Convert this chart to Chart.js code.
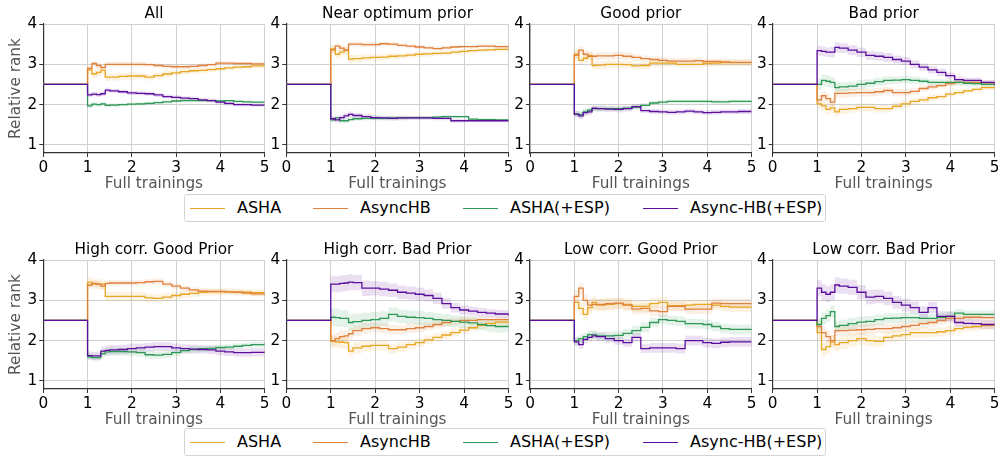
<!DOCTYPE html>
<html><head><meta charset="utf-8">
<script src="https://cdn.jsdelivr.net/npm/chart.js@4.4.1/dist/chart.umd.min.js"></script>
<style>
html,body{margin:0;padding:0;background:#fff;width:1001px;height:457px;overflow:hidden;font-family:"DejaVu Sans",sans-serif;}
canvas{position:absolute;}
.legend{position:absolute;left:184px;width:642px;height:28px;border:1px solid #d4d4d4;border-radius:3px;box-sizing:border-box;background:#fff;}
.ln{position:absolute;top:13px;width:35px;height:0;border-top:1.5px solid;}
.lt{position:absolute;top:3px;font-size:16px;line-height:19px;white-space:nowrap;color:#000;}
</style></head><body>
<div id="root"></div>
<script>
// ---- data ----
const XS = [0,1,1.1,1.2,1.3,1.4,1.5,1.7,1.9,2.1,2.3,2.5,2.7,2.9,3.1,3.3,3.5,3.7,3.9,4.1,4.3,4.5,4.7,5];
const X_TICKS = [0,1,2,3,4,5];
const Y_TICKS = [1,2,3,4];
const TITLES = ['All','Near optimum prior','Good prior','Bad prior','High corr. Good Prior','High corr. Bad Prior','Low corr. Good Prior','Low corr. Bad Prior'];
const SERIES = ['ASHA','AsyncHB','ASHA(+ESP)','Async-HB(+ESP)'];
const COLORS = ['#E8A622','#E0803D','#2E9856','#5B0E9E'];

// All
const all_asha  = [2.5,2.86,2.76,2.8,2.85,2.68,2.68,2.7,2.71,2.71,2.68,2.72,2.76,2.79,2.82,2.84,2.85,2.87,2.89,2.91,2.93,2.94,2.96,2.97];
const all_ahb   = [2.5,2.9,3.02,2.97,2.92,3.0,3.0,3.0,3.0,3.0,2.99,2.97,2.95,2.94,2.94,2.95,2.97,2.99,3.03,3.03,3.02,3.02,3.01,3.0];
const all_esp   = [2.5,1.97,2.01,2.0,2.02,1.98,1.99,2.0,2.01,2.02,2.03,2.05,2.07,2.09,2.1,2.1,2.1,2.1,2.09,2.1,2.08,2.07,2.06,2.06];
const all_hbesp = [2.5,2.24,2.26,2.25,2.27,2.36,2.34,2.32,2.29,2.28,2.27,2.24,2.2,2.18,2.16,2.15,2.12,2.1,2.06,2.03,2.0,2.0,1.99,1.98];
// Near optimum prior
const nop_asha  = [2.5,3.38,3.25,3.3,3.35,3.13,3.14,3.16,3.17,3.18,3.2,3.21,3.23,3.25,3.26,3.27,3.28,3.3,3.32,3.34,3.35,3.36,3.37,3.38];
const nop_ahb   = [2.5,3.36,3.45,3.4,3.35,3.5,3.5,3.49,3.49,3.51,3.5,3.47,3.45,3.43,3.41,3.39,3.41,3.43,3.44,3.44,3.45,3.45,3.44,3.42];
const nop_esp   = [2.5,1.62,1.67,1.6,1.6,1.63,1.65,1.66,1.66,1.66,1.67,1.67,1.68,1.68,1.68,1.69,1.7,1.7,1.7,1.64,1.63,1.63,1.62,1.62];
const nop_hbesp = [2.5,1.65,1.62,1.68,1.72,1.76,1.73,1.7,1.68,1.67,1.66,1.67,1.67,1.67,1.67,1.66,1.66,1.6,1.6,1.6,1.6,1.6,1.6,1.6];
// Good prior
const gp_asha  = [2.5,3.25,3.1,3.15,3.22,2.97,2.98,3.0,3.0,2.99,2.96,2.97,3.03,3.03,3.03,3.0,3.0,3.0,3.02,3.03,3.04,3.04,3.04,3.04];
const gp_ahb   = [2.5,3.23,3.35,3.25,3.2,3.2,3.21,3.21,3.22,3.2,3.17,3.14,3.12,3.1,3.08,3.08,3.08,3.09,3.07,3.07,3.06,3.05,3.05,3.04];
const gp_esp   = [2.5,1.77,1.75,1.82,1.86,1.9,1.9,1.9,1.9,1.91,1.94,1.98,2.04,2.06,2.08,2.08,2.08,2.08,2.08,2.07,2.07,2.08,2.08,2.09];
const gp_hbesp = [2.5,1.76,1.72,1.8,1.82,1.91,1.9,1.89,1.88,1.9,1.95,1.85,1.83,1.82,1.81,1.82,1.84,1.82,1.8,1.81,1.82,1.82,1.83,1.83];
// Bad prior
const bp_asha  = [2.5,2.02,1.97,1.88,1.92,1.82,1.88,1.9,1.93,1.93,1.9,1.9,1.96,2.02,2.08,2.12,2.17,2.2,2.26,2.3,2.34,2.38,2.42,2.45];
const bp_ahb   = [2.5,2.12,2.22,2.15,2.06,2.28,2.28,2.29,2.3,2.3,2.32,2.35,2.3,2.3,2.33,2.4,2.44,2.47,2.52,2.55,2.55,2.55,2.54,2.53];
const bp_esp   = [2.5,2.5,2.6,2.58,2.55,2.42,2.44,2.46,2.5,2.53,2.57,2.6,2.61,2.62,2.6,2.58,2.55,2.55,2.55,2.55,2.53,2.52,2.5,2.48];
const bp_hbesp = [2.5,3.34,3.32,3.3,3.3,3.42,3.4,3.35,3.3,3.22,3.2,3.17,3.12,3.08,3.0,2.93,2.86,2.8,2.72,2.62,2.6,2.6,2.55,2.48];
// High corr. Good Prior
const hcg_asha  = [2.5,3.45,3.4,3.4,3.4,3.1,3.1,3.1,3.1,3.1,3.06,3.05,3.08,3.12,3.15,3.17,3.2,3.21,3.21,3.21,3.2,3.2,3.19,3.18];
const hcg_ahb   = [2.5,3.38,3.42,3.4,3.35,3.42,3.43,3.43,3.43,3.44,3.46,3.47,3.4,3.35,3.3,3.26,3.23,3.22,3.22,3.21,3.2,3.18,3.16,3.14];
const hcg_esp   = [2.5,1.6,1.58,1.58,1.68,1.72,1.73,1.73,1.72,1.7,1.65,1.64,1.66,1.7,1.75,1.78,1.8,1.81,1.83,1.84,1.86,1.88,1.9,1.93];
const hcg_hbesp = [2.5,1.63,1.62,1.62,1.74,1.76,1.77,1.78,1.8,1.82,1.84,1.85,1.85,1.82,1.8,1.79,1.78,1.77,1.74,1.72,1.7,1.7,1.71,1.73];
// High corr. Bad Prior
const hcb_asha  = [2.5,1.98,1.97,1.96,1.95,1.74,1.82,1.86,1.88,1.88,1.8,1.84,1.9,1.95,2.02,2.08,2.14,2.2,2.26,2.32,2.38,2.42,2.46,2.48];
const hcb_ahb   = [2.5,2.0,2.05,2.1,2.12,2.17,2.25,2.3,2.32,2.3,2.27,2.27,2.3,2.32,2.35,2.4,2.45,2.48,2.5,2.5,2.52,2.52,2.52,2.52];
const hcb_esp   = [2.5,2.58,2.57,2.55,2.55,2.45,2.47,2.5,2.52,2.55,2.65,2.6,2.58,2.57,2.55,2.52,2.5,2.48,2.46,2.44,2.4,2.37,2.35,2.33];
const hcb_hbesp = [2.5,3.4,3.4,3.42,3.43,3.45,3.44,3.3,3.3,3.28,3.25,3.2,3.18,3.15,3.12,3.05,2.92,2.82,2.76,2.73,2.7,2.68,2.66,2.62];
// Low corr. Good Prior
const lcg_asha  = [2.5,2.95,2.8,2.65,2.82,2.95,2.88,2.9,2.92,2.9,2.85,2.85,2.92,2.95,2.87,2.87,2.88,2.9,2.9,2.88,2.85,2.83,2.83,2.83];
const lcg_ahb   = [2.5,3.1,3.3,3.0,2.88,2.9,2.9,2.92,2.93,2.88,2.78,2.8,2.74,2.72,2.85,2.85,2.78,2.78,2.78,2.93,2.92,2.92,2.92,2.92];
const lcg_esp   = [2.5,2.0,2.05,2.1,2.15,2.15,2.12,2.12,2.13,2.18,2.25,2.33,2.45,2.52,2.5,2.48,2.42,2.42,2.4,2.35,2.3,2.28,2.28,2.27];
const lcg_hbesp = [2.5,1.97,1.9,2.03,2.08,2.12,2.1,2.05,2.0,1.95,2.08,1.8,1.82,1.82,1.82,1.8,2.0,2.0,1.95,1.93,1.96,1.97,1.97,1.97];
// Low corr. Bad Prior
const lcb_asha  = [2.5,2.2,1.78,1.85,1.97,1.9,1.95,2.0,2.05,2.0,1.98,2.08,2.12,2.15,2.2,2.2,2.2,2.22,2.25,2.3,2.33,2.35,2.37,2.38];
const lcb_ahb   = [2.5,2.35,2.2,2.1,2.0,2.25,2.25,2.26,2.27,2.28,2.3,2.3,2.32,2.35,2.38,2.42,2.45,2.5,2.55,2.55,2.58,2.58,2.57,2.57];
const lcb_esp   = [2.5,2.4,2.55,2.62,2.72,2.35,2.38,2.42,2.46,2.48,2.52,2.55,2.56,2.57,2.57,2.55,2.55,2.58,2.6,2.68,2.65,2.65,2.65,2.65];
const lcb_hbesp = [2.5,3.3,3.2,3.15,3.2,3.38,3.35,3.32,3.2,3.08,3.1,3.05,2.95,2.88,2.82,2.7,2.82,2.6,2.6,2.45,2.43,2.42,2.4,2.38];

// band half-widths (shaded spread)
const all_asha_sd  = [0,.10,.10,.10,.10,.10,.09,.09,.09,.08,.08,.08,.08,.07,.07,.07,.07,.06,.06,.06,.06,.05,.05,.05];
const all_ahb_sd   = [0,.07,.07,.07,.07,.06,.06,.06,.06,.06,.05,.05,.05,.05,.05,.05,.05,.05,.05,.04,.04,.04,.04,.04];
const all_esp_sd   = [0,.05,.05,.05,.05,.05,.04,.04,.04,.04,.04,.04,.04,.04,.04,.04,.03,.03,.03,.03,.03,.03,.03,.03];
const all_hbesp_sd = [0,.06,.06,.06,.06,.06,.05,.05,.05,.05,.05,.05,.05,.05,.05,.05,.05,.05,.05,.05,.04,.04,.04,.04];
const nop_asha_sd  = [0,.10,.11,.11,.11,.10,.09,.09,.08,.08,.08,.07,.07,.07,.07,.06,.06,.06,.06,.06,.05,.05,.05,.05];
const nop_ahb_sd   = [0,.07,.07,.07,.07,.06,.06,.06,.06,.05,.05,.05,.05,.05,.05,.05,.05,.04,.04,.04,.04,.04,.04,.04];
const nop_esp_sd   = [0,.06,.06,.06,.06,.05,.05,.05,.05,.05,.05,.04,.04,.04,.04,.04,.04,.04,.03,.03,.03,.03,.03,.03];
const nop_hbesp_sd = [0,.07,.07,.07,.07,.07,.06,.06,.06,.06,.06,.06,.05,.05,.05,.05,.05,.05,.04,.04,.04,.04,.04,.04];
const gp_asha_sd   = [0,.12,.12,.12,.11,.10,.10,.10,.10,.09,.09,.09,.09,.09,.08,.08,.08,.08,.08,.08,.08,.08,.08,.08];
const gp_ahb_sd    = [0,.10,.10,.10,.10,.09,.09,.09,.09,.09,.08,.08,.08,.08,.08,.08,.08,.07,.07,.07,.07,.07,.07,.07];
const gp_esp_sd    = [0,.08,.08,.08,.07,.07,.07,.06,.06,.06,.06,.06,.05,.05,.05,.05,.05,.05,.05,.05,.05,.05,.05,.05];
const gp_hbesp_sd  = [0,.08,.08,.08,.08,.07,.07,.07,.07,.07,.06,.06,.06,.06,.06,.06,.06,.06,.06,.06,.06,.06,.06,.06];
const bp_asha_sd   = [0,.12,.12,.12,.12,.11,.11,.10,.10,.10,.10,.09,.09,.09,.08,.08,.08,.07,.07,.07,.06,.06,.06,.06];
const bp_ahb_sd    = [0,.12,.12,.12,.12,.11,.11,.10,.10,.10,.10,.09,.09,.09,.08,.08,.08,.07,.07,.07,.06,.06,.06,.06];
const bp_esp_sd    = [0,.14,.14,.14,.13,.12,.12,.11,.11,.10,.10,.10,.09,.09,.09,.08,.08,.08,.07,.07,.07,.06,.06,.06];
const bp_hbesp_sd  = [0,.12,.12,.12,.13,.13,.12,.12,.12,.11,.11,.11,.10,.10,.10,.09,.09,.09,.08,.08,.07,.07,.06,.06];
const hcg_asha_sd  = [0,.12,.12,.12,.12,.12,.12,.11,.11,.11,.11,.10,.10,.10,.10,.09,.09,.09,.09,.08,.08,.08,.08,.08];
const hcg_ahb_sd   = [0,.08,.08,.08,.08,.08,.08,.07,.07,.07,.07,.07,.07,.07,.06,.06,.06,.06,.06,.06,.06,.06,.06,.06];
const hcg_esp_sd   = [0,.08,.08,.08,.09,.10,.10,.10,.10,.10,.10,.09,.09,.09,.08,.08,.08,.08,.07,.07,.07,.07,.07,.07];
const hcg_hbesp_sd = [0,.10,.10,.10,.11,.12,.12,.12,.12,.11,.11,.11,.11,.11,.11,.11,.10,.10,.10,.10,.10,.10,.10,.10];
const hcb_asha_sd  = [0,.15,.15,.15,.15,.14,.14,.13,.13,.13,.12,.12,.12,.11,.11,.10,.10,.10,.09,.09,.09,.08,.08,.08];
const hcb_ahb_sd   = [0,.15,.15,.15,.14,.14,.13,.13,.12,.12,.12,.11,.11,.11,.10,.10,.10,.09,.09,.09,.08,.08,.08,.08];
const hcb_esp_sd   = [0,.22,.22,.21,.21,.20,.20,.19,.19,.18,.18,.17,.17,.17,.16,.16,.16,.15,.15,.15,.15,.15,.15,.15];
const hcb_hbesp_sd = [0,.20,.20,.20,.20,.20,.19,.19,.18,.18,.17,.17,.16,.16,.15,.14,.13,.12,.12,.11,.11,.10,.10,.10];
const lcg_asha_sd  = [0,.16,.16,.16,.16,.15,.15,.15,.14,.14,.14,.14,.13,.13,.13,.13,.13,.12,.12,.12,.12,.12,.12,.12];
const lcg_ahb_sd   = [0,.15,.15,.15,.15,.14,.14,.14,.13,.13,.13,.13,.13,.12,.12,.12,.12,.12,.12,.12,.12,.12,.12,.12];
const lcg_esp_sd   = [0,.10,.10,.10,.10,.10,.10,.11,.11,.11,.12,.12,.12,.12,.12,.12,.12,.12,.12,.12,.12,.12,.12,.12];
const lcg_hbesp_sd = [0,.10,.10,.10,.10,.10,.10,.10,.10,.10,.11,.11,.12,.12,.12,.12,.12,.12,.12,.12,.12,.12,.12,.12];
const lcb_asha_sd  = [0,.18,.18,.17,.17,.16,.16,.15,.15,.14,.14,.13,.13,.12,.12,.12,.11,.11,.11,.10,.10,.10,.10,.10];
const lcb_ahb_sd   = [0,.15,.15,.15,.14,.14,.14,.13,.13,.13,.12,.12,.12,.11,.11,.11,.11,.10,.10,.10,.10,.10,.10,.10];
const lcb_esp_sd   = [0,.15,.15,.15,.15,.14,.14,.14,.13,.13,.13,.12,.12,.12,.12,.11,.11,.11,.11,.10,.10,.10,.10,.10];
const lcb_hbesp_sd = [0,.20,.20,.20,.20,.20,.19,.19,.18,.18,.17,.17,.16,.16,.15,.15,.14,.13,.13,.12,.12,.11,.11,.10];

const PANEL_VALUES = [
  [all_asha, all_ahb, all_esp, all_hbesp],
  [nop_asha, nop_ahb, nop_esp, nop_hbesp],
  [gp_asha, gp_ahb, gp_esp, gp_hbesp],
  [bp_asha, bp_ahb, bp_esp, bp_hbesp],
  [hcg_asha, hcg_ahb, hcg_esp, hcg_hbesp],
  [hcb_asha, hcb_ahb, hcb_esp, hcb_hbesp],
  [lcg_asha, lcg_ahb, lcg_esp, lcg_hbesp],
  [lcb_asha, lcb_ahb, lcb_esp, lcb_hbesp]
];
const PANEL_SD = [
  [all_asha_sd, all_ahb_sd, all_esp_sd, all_hbesp_sd],
  [nop_asha_sd, nop_ahb_sd, nop_esp_sd, nop_hbesp_sd],
  [gp_asha_sd, gp_ahb_sd, gp_esp_sd, gp_hbesp_sd],
  [bp_asha_sd, bp_ahb_sd, bp_esp_sd, bp_hbesp_sd],
  [hcg_asha_sd, hcg_ahb_sd, hcg_esp_sd, hcg_hbesp_sd],
  [hcb_asha_sd, hcb_ahb_sd, hcb_esp_sd, hcb_hbesp_sd],
  [lcg_asha_sd, lcg_ahb_sd, lcg_esp_sd, lcg_hbesp_sd],
  [lcb_asha_sd, lcb_ahb_sd, lcb_esp_sd, lcb_hbesp_sd]
];

// ---- layout ----
const F = '"DejaVu Sans", sans-serif';
const FS = 15.3;
const PLOT_L = [43.3, 286.3, 530, 772.7];
const PLOT_R = [265.7, 509.3, 752.3, 995.7];
const CAN_L = [0, 250, 494, 737];
const ROW_TOP = [0, 236];
const TITLE_H = 24, PLOT_H = 129, XAX_H = 40;

function rgba(hex, a){
  const n = parseInt(hex.slice(1),16);
  return `rgba(${(n>>16)&255},${(n>>8)&255},${n&255},${a})`;
}

const root = document.getElementById('root');
for (let p = 0; p < 8; p++) {
  const r = Math.floor(p/4), c = p % 4;
  const cw = Math.ceil(PLOT_R[c]) + 5 - CAN_L[c];
  const ch = TITLE_H + PLOT_H + XAX_H;
  const cv = document.createElement('canvas');
  cv.width = cw; cv.height = ch;
  cv.style.left = CAN_L[c] + 'px'; cv.style.top = ROW_TOP[r] + 'px';
  cv.style.width = cw + 'px'; cv.style.height = ch + 'px';
  root.appendChild(cv);
  const padR = CAN_L[c] + cw - PLOT_R[c];
  const yW = PLOT_L[c] - CAN_L[c];

  const datasets = [];
  for (let s = 0; s < 4; s++) {
    const v = PANEL_VALUES[p][s], sd = PANEL_SD[p][s];
    const col = COLORS[s];
    datasets.push({
      data: XS.map((x,i)=>({x, y: v[i] + sd[i]})), stepped: true,
      borderColor: 'transparent', borderWidth: 0, pointRadius: 0,
      backgroundColor: rgba(col, 0.13), fill: '+1', order: 10
    });
    datasets.push({
      data: XS.map((x,i)=>({x, y: v[i] - sd[i]})), stepped: true,
      borderColor: 'transparent', borderWidth: 0, pointRadius: 0, fill: false, order: 10
    });
  }
  for (let s = 0; s < 4; s++) {
    const v = PANEL_VALUES[p][s];
    datasets.push({
      label: SERIES[s],
      data: XS.map((x,i)=>({x, y: v[i]})), stepped: true,
      borderColor: COLORS[s], borderWidth: 1.3, pointRadius: 0, fill: false,
      order: 4 - s
    });
  }

  const tickFont = {family: F, size: FS};
  new Chart(cv, {
    type: 'line',
    data: { datasets },
    options: {
      responsive: false, animation: false, devicePixelRatio: 1,
      layout: { padding: { left: 0, right: padR, top: 0, bottom: 0 } },
      plugins: {
        legend: { display: false }, tooltip: { enabled: false },
        title: { display: true, text: TITLES[p], fullSize: false, color: '#000',
                 font: { family: F, size: FS, weight: 'normal', lineHeight: 1.2 },
                 padding: { top: 4.8, bottom: 0.84 } }
      },
      scales: {
        x: {
          type: 'linear', min: 0, max: 5,
          afterBuildTicks: s => { s.ticks = X_TICKS.map(v => ({value: v})); },
          afterFit: s => { s.height = XAX_H; },
          ticks: { color: '#000', font: tickFont, padding: 1.5, maxRotation: 0, autoSkip: false, callback: v => String(v) },
          grid: { color: '#d0d0d0', lineWidth: 1, tickLength: 4, tickColor: '#333', drawTicks: true },
          border: { display: true, color: '#333', width: 1.2 },
          title: { display: true, text: 'Full trainings', color: '#555', font: { family: F, size: FS, lineHeight: 1.2 },
                   padding: { top: 0, bottom: 0 } }
        },
        y: {
          type: 'linear', min: 0.8, max: 4,
          afterBuildTicks: s => { s.ticks = Y_TICKS.map(v => ({value: v})); },
          afterFit: s => { s.width = yW; },
          ticks: { color: '#000', font: tickFont, padding: 2, autoSkip: false, callback: v => String(v) },
          grid: { color: '#d0d0d0', lineWidth: 1, tickLength: 4, tickColor: '#333', drawTicks: true },
          border: { display: true, color: '#333', width: 1.2 },
          title: { display: c === 0, text: 'Relative rank', color: '#555', font: { family: F, size: FS, lineHeight: 1.2 },
                   padding: { top: 7, bottom: 0 } }
        }
      }
    }
  });
}

// ---- legends ----
const LEG_TOPS = [194, 428];
const LINE_X = [5, 128, 278, 458];
const TEXT_X = [52, 175, 325, 505];
for (const top of LEG_TOPS) {
  const box = document.createElement('div');
  box.className = 'legend'; box.style.top = top + 'px';
  for (let s = 0; s < 4; s++) {
    const ln = document.createElement('div');
    ln.className = 'ln'; ln.style.left = LINE_X[s] + 'px'; ln.style.borderTopColor = COLORS[s];
    const tx = document.createElement('div');
    tx.className = 'lt'; tx.style.left = TEXT_X[s] + 'px'; tx.textContent = SERIES[s];
    box.appendChild(ln); box.appendChild(tx);
  }
  root.appendChild(box);
}
</script>
</body></html>
